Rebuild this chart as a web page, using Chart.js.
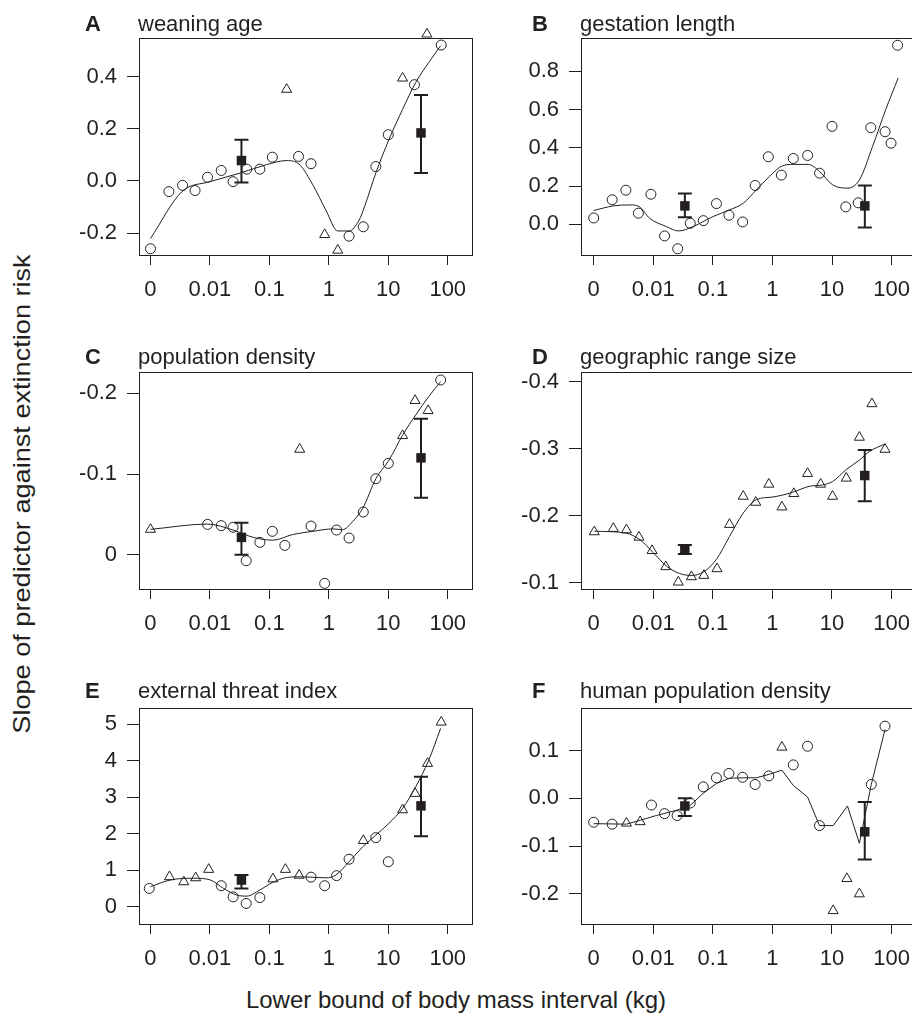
<!DOCTYPE html>
<html><head><meta charset="utf-8">
<script src="https://cdn.jsdelivr.net/npm/chart.js@4.4.0/dist/chart.umd.min.js"></script>
<style>
html,body{margin:0;padding:0;overflow:hidden;background:#fff;width:912px;height:1016px;}
body{position:relative;font-family:'Liberation Sans',Arial,Helvetica,sans-serif;color:#231f20;}
canvas{position:absolute;}
.t{position:absolute;font-size:22px;line-height:22px;white-space:nowrap;}
.t.b{font-weight:bold;}
.lab{position:absolute;font-size:24px;line-height:24px;white-space:nowrap;}
</style>
</head><body>
<script>
// ---------- data (x = log10 of lower bound of body mass in kg; "0" kg plotted at -3) ----------
const xTickVals = [-3, -2, -1, 0, 1, 2];
const xTickLabels = ['0', '0.01', '0.1', '1', '10', '100'];
const sqX = [-1.47, 1.55];

// A weaning age
const aCircX = [-3.0, -2.69, -2.46, -2.25, -2.04, -1.81, -1.61, -1.38, -1.16, -0.95, -0.51, -0.30, 0.34, 0.58, 0.79, 1.00, 1.44, 1.89];
const aCircY = [-0.26, -0.041, -0.017, -0.037, 0.014, 0.040, -0.003, 0.045, 0.045, 0.091, 0.094, 0.066, -0.212, -0.176, 0.055, 0.177, 0.369, 0.521];
const aTriX = [-0.71, -0.07, 0.15, 1.24, 1.65];
const aTriY = [0.351, -0.206, -0.266, 0.394, 0.563];
const aLineX = [-3.0, -2.47, -2.0, -1.49, -1.05, -0.71, -0.49, -0.27, -0.05, 0.15, 0.34, 0.51, 0.60, 0.79, 1.01, 1.24, 1.46, 1.68, 1.88];
const aLineY = [-0.221, -0.041, -0.003, 0.030, 0.062, 0.078, 0.062, -0.015, -0.112, -0.192, -0.192, -0.150, -0.099, 0.030, 0.158, 0.274, 0.377, 0.454, 0.518];
const aSqY = [0.078, 0.184];
const aErrLo = [-0.006, 0.030];
const aErrHi = [0.158, 0.329];
const aYTicks = [-0.2, 0, 0.2, 0.4];
const aYLabels = ['-0.2', '0.0', '0.2', '0.4'];

// B gestation length
const bCircX = [-3.0, -2.69, -2.46, -2.25, -2.04, -1.81, -1.59, -1.38, -1.16, -0.94, -0.73, -0.50, -0.29, -0.07, 0.15, 0.35, 0.59, 0.79, 1.00, 1.23, 1.44, 1.65, 1.89, 1.99, 2.10];
const bCircY = [0.033, 0.128, 0.178, 0.058, 0.157, -0.061, -0.128, 0.005, 0.019, 0.108, 0.047, 0.012, 0.203, 0.353, 0.257, 0.344, 0.360, 0.267, 0.512, 0.091, 0.112, 0.505, 0.484, 0.424, 0.936];
const bTriX = [];
const bTriY = [];
const bLineX = [-3.0, -2.67, -2.39, -2.24, -2.06, -1.78, -1.58, -1.33, -1.0, -0.72, -0.49, -0.27, -0.05, 0.17, 0.35, 0.60, 0.79, 1.01, 1.26, 1.46, 1.68, 1.90, 2.11];
const bLineY = [0.072, 0.096, 0.101, 0.093, 0.031, -0.012, -0.035, -0.012, 0.040, 0.075, 0.110, 0.180, 0.250, 0.306, 0.313, 0.313, 0.276, 0.206, 0.189, 0.232, 0.407, 0.599, 0.765];
const bSqY = [0.096, 0.096];
const bErrLo = [0.037, -0.017];
const bErrHi = [0.161, 0.203];
const bYTicks = [0, 0.2, 0.4, 0.6, 0.8];
const bYLabels = ['0.0', '0.2', '0.4', '0.6', '0.8'];

// C population density (axis reversed)
const cCircX = [-2.04, -1.81, -1.61, -1.39, -1.16, -0.95, -0.74, -0.30, -0.07, 0.13, 0.34, 0.58, 0.79, 1.00, 1.88];
const cCircY = [-0.0376, -0.036, -0.034, 0.0074, -0.0153, -0.029, -0.0116, -0.0355, 0.0355, -0.0306, -0.0207, -0.0529, -0.0942, -0.1132, -0.2165];
const cTriX = [-3.0, -0.49, 1.24, 1.45, 1.67];
const cTriY = [-0.0314, -0.1306, -0.1475, -0.191, -0.1785];
const cLineX = [-3.0, -2.04, -1.61, -1.27, -0.94, -0.61, -0.27, 0.07, 0.23, 0.40, 0.57, 0.79, 1.01, 1.24, 1.46, 1.68, 1.88];
const cLineY = [-0.0314, -0.038, -0.0306, -0.0215, -0.018, -0.025, -0.029, -0.032, -0.031, -0.041, -0.0574, -0.094, -0.117, -0.148, -0.173, -0.196, -0.2145];
const cSqY = [-0.0215, -0.120];
const cErrLo = [0.0, -0.0707];
const cErrHi = [-0.0397, -0.1686];
const cYTicks = [-0.2, -0.1, 0];
const cYLabels = ['-0.2', '-0.1', '0'];

// D geographic range size (axis reversed)
const dCircX = [];
const dCircY = [];
const dTriX = [-2.99, -2.67, -2.45, -2.24, -2.02, -1.79, -1.58, -1.36, -1.15, -0.93, -0.72, -0.49, -0.28, -0.06, 0.16, 0.36, 0.59, 0.81, 1.01, 1.24, 1.46, 1.67, 1.89];
const dTriY = [-0.176, -0.181, -0.179, -0.168, -0.148, -0.124, -0.101, -0.109, -0.111, -0.121, -0.187, -0.229, -0.220, -0.247, -0.213, -0.233, -0.263, -0.247, -0.229, -0.256, -0.317, -0.367, -0.299];
const dLineX = [-2.99, -2.45, -2.22, -2.0, -1.78, -1.56, -1.36, -1.16, -0.94, -0.72, -0.49, -0.27, 0.01, 0.34, 0.62, 0.84, 1.01, 1.24, 1.46, 1.63, 1.89];
const dLineY = [-0.177, -0.174, -0.164, -0.145, -0.125, -0.114, -0.111, -0.116, -0.135, -0.169, -0.204, -0.224, -0.228, -0.235, -0.244, -0.246, -0.251, -0.269, -0.283, -0.296, -0.307];
const dSqY = [-0.150, -0.260];
const dErrLo = [-0.143, -0.2215];
const dErrHi = [-0.1565, -0.298];
const dYTicks = [-0.4, -0.3, -0.2, -0.1];
const dYLabels = ['-0.4', '-0.3', '-0.2', '-0.1'];

// E external threat index
const eCircX = [-3.02, -1.81, -1.61, -1.39, -1.16, -0.30, -0.07, 0.13, 0.34, 0.79, 1.00];
const eCircY = [0.50, 0.575, 0.27, 0.09, 0.25, 0.81, 0.575, 0.85, 1.30, 1.89, 1.23];
const eTriX = [-2.68, -2.44, -2.24, -2.02, -0.94, -0.73, -0.50, 0.58, 1.24, 1.45, 1.66, 1.89];
const eTriY = [0.82, 0.68, 0.79, 1.02, 0.76, 1.02, 0.86, 1.81, 2.65, 3.10, 3.92, 5.05];
const eLineX = [-3.0, -2.67, -2.27, -1.99, -1.77, -1.55, -1.38, -1.16, -0.94, -0.71, -0.49, -0.05, 0.12, 0.34, 0.57, 0.79, 1.01, 1.24, 1.46, 1.68, 1.88];
const eLineY = [0.55, 0.73, 0.78, 0.73, 0.50, 0.32, 0.29, 0.46, 0.67, 0.80, 0.82, 0.79, 0.87, 1.23, 1.64, 1.96, 2.28, 2.69, 3.28, 4.01, 4.88];
const eSqY = [0.73, 2.76];
const eErrLo = [0.50, 1.93];
const eErrHi = [0.87, 3.56];
const eYTicks = [0, 1, 2, 3, 4, 5];
const eYLabels = ['0', '1', '2', '3', '4', '5'];

// F human population density
const fCircX = [-3.0, -2.69, -2.03, -1.81, -1.60, -1.38, -1.16, -0.94, -0.73, -0.50, -0.29, -0.06, 0.35, 0.59, 0.79, 1.66, 1.89];
const fCircY = [-0.050, -0.054, -0.014, -0.032, -0.036, -0.0098, 0.024, 0.043, 0.052, 0.044, 0.029, 0.047, 0.070, 0.109, -0.057, 0.029, 0.151];
const fTriX = [-2.45, -2.22, 0.16, 1.02, 1.25, 1.46];
const fTriY = [-0.052, -0.049, 0.107, -0.235, -0.168, -0.200];
const fLineX = [-3.0, -2.45, -2.22, -1.95, -1.61, -1.38, -1.17, -0.94, -0.72, -0.49, -0.27, -0.06, 0.16, 0.35, 0.59, 0.79, 1.02, 1.26, 1.46, 1.66, 1.89];
const fLineY = [-0.053, -0.054, -0.046, -0.036, -0.025, -0.015, 0.0098, 0.031, 0.042, 0.043, 0.043, 0.050, 0.059, 0.027, 0.0028, -0.057, -0.057, -0.016, -0.094, 0.029, 0.144];
const fSqY = [-0.016, -0.070];
const fErrLo = [-0.037, -0.128];
const fErrHi = [0.0, -0.0077];
const fYTicks = [-0.2, -0.1, 0, 0.1];
const fYLabels = ['-0.2', '-0.1', '0.0', '0.1'];

const panelLetters = ['A', 'B', 'C', 'D', 'E', 'F'];
const panelTitles = ['weaning age', 'gestation length', 'population density', 'geographic range size', 'external threat index', 'human population density'];
const yAxisTitle = 'Slope of predictor against extinction risk';
const xAxisTitle = 'Lower bound of body mass interval (kg)';

// ---------- drawing ----------
const INK = '#231f20';
const FONT = "'Liberation Sans', Arial, Helvetica, sans-serif";
const pts = (xs, ys) => xs.map((x, i) => ({x: x, y: ys[i]}));

const boxPlugin = {
  id: 'box',
  beforeDatasetsDraw(chart) {
    const a = chart.chartArea, ctx = chart.ctx;
    ctx.save();
    ctx.strokeStyle = INK; ctx.lineWidth = 1;
    ctx.strokeRect(Math.round(a.left) + 0.5, Math.round(a.top) + 0.5,
      Math.round(a.right) - Math.round(a.left) - 1, Math.round(a.bottom) - Math.round(a.top) - 1);
    ctx.restore();
  }
};
const errPlugin = {
  id: 'errbars',
  beforeDatasetsDraw(chart, args, opts) {
    const xs = chart.scales.x, ys = chart.scales.y, ctx = chart.ctx;
    ctx.save();
    ctx.strokeStyle = INK; ctx.lineWidth = 2;
    opts.xv.forEach((xv, i) => {
      const px = xs.getPixelForValue(xv);
      const p1 = ys.getPixelForValue(opts.lo[i]);
      const p2 = ys.getPixelForValue(opts.hi[i]);
      ctx.beginPath();
      ctx.moveTo(px, p1); ctx.lineTo(px, p2);
      ctx.moveTo(px - 7, p1); ctx.lineTo(px + 7, p1);
      ctx.moveTo(px - 7, p2); ctx.lineTo(px + 7, p2);
      ctx.stroke();
    });
    ctx.restore();
  }
};

const panels = [
  {cx: aCircX, cy: aCircY, tx: aTriX, ty: aTriY, lx: aLineX, ly: aLineY, sy: aSqY, lo: aErrLo, hi: aErrHi, yt: aYTicks, yl: aYLabels},
  {cx: bCircX, cy: bCircY, tx: bTriX, ty: bTriY, lx: bLineX, ly: bLineY, sy: bSqY, lo: bErrLo, hi: bErrHi, yt: bYTicks, yl: bYLabels},
  {cx: cCircX, cy: cCircY, tx: cTriX, ty: cTriY, lx: cLineX, ly: cLineY, sy: cSqY, lo: cErrLo, hi: cErrHi, yt: cYTicks, yl: cYLabels},
  {cx: dCircX, cy: dCircY, tx: dTriX, ty: dTriY, lx: dLineX, ly: dLineY, sy: dSqY, lo: dErrLo, hi: dErrHi, yt: dYTicks, yl: dYLabels},
  {cx: eCircX, cy: eCircY, tx: eTriX, ty: eTriY, lx: eLineX, ly: eLineY, sy: eSqY, lo: eErrLo, hi: eErrHi, yt: eYTicks, yl: eYLabels},
  {cx: fCircX, cy: fCircY, tx: fTriX, ty: fTriY, lx: fLineX, ly: fLineY, sy: fSqY, lo: fErrLo, hi: fErrHi, yt: fYTicks, yl: fYLabels}
];
// layout (pixels / axis extents)
const yRange = [[-0.288, 0.548], [-0.166, 0.974], [-0.2264, 0.0437], [-0.4144, -0.0893], [-0.50, 5.438], [-0.265, 0.189]];
const yReverse = [false, false, true, true, false, false];
const lineTension = [1, 1, 1, 1, 1, 0];
const boxTops = [38, 372, 708];
const boxBottoms = [256, 590, 925];
const colLeft = [60, 502];
const xRange = [[-3.193, 2.428], [-3.213, 2.397]];
const titleBase = [32, 365, 699];
const letterLeft = [85, 532];
const textLeft = [138, 580];
const PADTOP = 26, XAXH = 45, YAXW = 79, CW = 420;

panels.forEach((p, k) => {
  const row = Math.floor(k / 2), col = k % 2;
  const cv = document.createElement('canvas');
  const h = boxBottoms[row] - boxTops[row] + PADTOP + XAXH;
  cv.width = CW; cv.height = h;
  cv.style.left = colLeft[col] + 'px';
  cv.style.top = (boxTops[row] - PADTOP) + 'px';
  cv.style.width = CW + 'px'; cv.style.height = h + 'px';
  document.body.appendChild(cv);

  const tickFont = {family: FONT, size: 22};
  new Chart(cv.getContext('2d'), {
    type: 'scatter',
    data: {datasets: [
      {data: pts(p.lx, p.ly), showLine: true, borderColor: INK, borderWidth: 1, pointRadius: 0,
       cubicInterpolationMode: lineTension[k] ? 'monotone' : 'default', tension: 0, fill: false},
      {data: pts(p.cx, p.cy), pointStyle: 'circle', pointRadius: 5, backgroundColor: 'rgba(255,255,255,0)',
       borderColor: INK, borderWidth: 1, clip: false},
      {data: pts(p.tx, p.ty), pointStyle: 'triangle', pointRadius: 5.8, backgroundColor: 'rgba(255,255,255,0)',
       borderColor: INK, borderWidth: 1, clip: false},
      {data: pts(sqX, p.sy), pointStyle: 'rect', pointRadius: 6.7, backgroundColor: INK,
       borderColor: INK, borderWidth: 0, clip: false}
    ]},
    options: {
      responsive: false, animation: false, devicePixelRatio: 1,
      layout: {padding: {top: PADTOP, left: 0, right: 6, bottom: 0}},
      plugins: {legend: {display: false}, tooltip: {enabled: false},
        errbars: {xv: sqX, lo: p.lo, hi: p.hi}},
      elements: {point: {hoverRadius: 0}},
      scales: {
        x: {type: 'linear', min: xRange[col][0], max: xRange[col][1],
          afterBuildTicks: s => { s.ticks = xTickVals.map(v => ({value: v})); },
          afterFit: s => { s.height = XAXH; },
          grid: {drawOnChartArea: false, drawTicks: true, tickLength: 11, color: INK, lineWidth: 1,
            tickBorderDash: [9, 30], tickBorderDashOffset: 0},
          border: {display: false},
          ticks: {autoSkip: false, maxRotation: 0, minRotation: 0, padding: 10, color: INK, font: tickFont,
            callback: (v, i) => xTickLabels[i]}},
        y: {type: 'linear', min: yRange[k][0], max: yRange[k][1], reverse: yReverse[k],
          afterBuildTicks: s => { s.ticks = p.yt.map(v => ({value: v})); },
          afterFit: s => { s.width = YAXW; },
          grid: {drawOnChartArea: false, drawTicks: true, tickLength: 12, color: INK, lineWidth: 1},
          border: {display: false},
          ticks: {autoSkip: false, padding: 10, color: INK, font: tickFont,
            callback: (v, i) => p.yl[i]}}
      }
    },
    plugins: [boxPlugin, errPlugin]
  });

  const top = titleBase[row] - 18.6;
  const L = document.createElement('div');
  L.className = 't b'; L.textContent = panelLetters[k];
  L.style.left = letterLeft[col] + 'px'; L.style.top = top + 'px';
  document.body.appendChild(L);
  const T = document.createElement('div');
  T.className = 't'; T.textContent = panelTitles[k];
  T.style.left = textLeft[col] + 'px'; T.style.top = top + 'px';
  document.body.appendChild(T);
});

const yl = document.createElement('div');
yl.className = 'lab'; yl.textContent = yAxisTitle;
yl.style.left = '22px'; yl.style.top = '494px';
yl.style.transform = 'translate(-50%,-50%) rotate(-90deg) scaleX(1.13)';
document.body.appendChild(yl);
const xl = document.createElement('div');
xl.className = 'lab'; xl.textContent = xAxisTitle;
xl.style.left = '456px'; xl.style.top = '988px';
xl.style.transform = 'translateX(-50%)';
document.body.appendChild(xl);
</script>
</body></html>
